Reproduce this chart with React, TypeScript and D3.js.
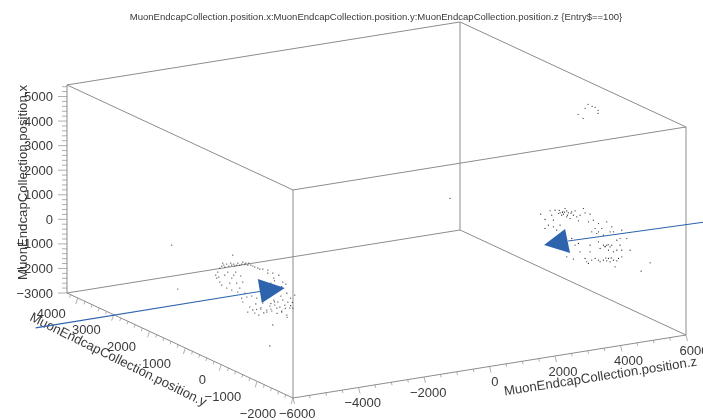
import React from "react";
import * as d3 from "d3";

const W = 703, H = 420;
const TITLE = "MuonEndcapCollection.position.x:MuonEndcapCollection.position.y:MuonEndcapCollection.position.z {Entry$==100}";
const X_TITLE = "MuonEndcapCollection.position.x";
const Y_TITLE = "MuonEndcapCollection.position.y";
const Z_TITLE = "MuonEndcapCollection.position.z";

const xTicks = [-3000, -2000, -1000, 0, 1000, 2000, 3000, 4000, 5000];
const yTicks = [-2000, -1000, 0, 1000, 2000, 3000, 4000];
const zTicks = [-6000, -4000, -2000, 0, 2000, 4000, 6000];
const xDomain = [-3000, 5470];
const yDomain = [-2000, 4300];
const zDomain = [-6000, 6000];
const zLeft = -5250;
const zRight = 5250;

// [x, y] hits on the -z endcap
const leftHits = [
  [280,725],[398,670],[480,614],[415,586],[577,530],[532,474],[691,419],[630,391],[707,335],[646,307],
  [724,251],[825,223],[780,167],[858,112],[959,84],[915,28],[976,0],[931,-56],[1033,-84],[988,-140],
  [988,-195],[984,-251],[1000,-335],[996,-391],[1053,-474],
  [-183,809],[-289,725],[89,586],[102,391],[-8,251],[-386,391],[81,781],[-154,167],[146,84],[-524,112],
  [-736,-112],[-801,-195],[-894,-363],[-610,-419],[-537,-586],[-484,-725],[-268,-865],[-171,-949],[4,-1088],
  [183,-1172],[-20,-1228],[-366,-1144],[171,-1032],[-4,-893],[-329,-474],[-667,84],[1081,-753],[1110,-921],
  [902,-1032],[878,-1116],[1106,-614],[602,-1367],[1057,363],[541,642],[-1033,-753],[-1943,-670],[984,-614],
  [-240,-307],[-386,-28],[-980,-56],[-618,-586],[-337,-1004],[-183,-809],[37,-1311],
  [-420,-700],[-300,-1000],[-120,-1100],[90,-1250],[-480,-870],[-560,-420],[-700,-300],[-450,-1150],[-200,-700],
  [260,-1300],[400,-1250],[700,-1000],[800,-800],[-60,-800],[309,2065],[-1366,1897],
  [-81,837],[-106,753],[-374,670],[268,502],[-138,446],[260,335],[419,279],[354,140],[-264,28],[-252,-167],
  [-500,-279],[-886,-251],[-715,-502],[-317,-670],[0,-781],[297,-977],[528,-1144],[447,-837],[634,-698],
  [894,-781],[-398,530],[-354,223],
];

// [x, y] hits on the +z endcap
const rightHits = [
  [-203,1365],[109,1105],[231,966],[217,826],[154,780],[488,687],[225,733],[375,594],[478,500],[374,454],
  [369,361],[175,547],[834,175],[690,128],[729,-11],[238,315],[-208,1012],[-337,1245],[-703,1245],[-285,826],
  [-479,1012],[387,35],[548,-104],[508,-244],[733,-476],[242,-151],[169,-244],[43,-58],[624,-616],[389,-569],
  [452,-662],[128,-383],[433,-1034],[307,-848],[-237,-244],[-216,-476],[-221,-569],[-121,-616],[-361,-662],
  [36,-848],[22,-1127],[-135,-895],[-802,-11],[-1167,128],[-1109,-58],[-983,-244],[-889,-383],[-726,-523],
  [-700,-662],[-537,-802],[-406,-895],[-1307,35],[-830,-569],[-279,-383],[-477,-290],[-939,-709],[-814,408],
  [-991,268],[-606,500],[-1446,640],[-1415,454],[-115,-1685],[-624,-1434],[678,-895],
  [300,850],[280,760],[420,640],[330,700],[260,620],[410,520],[-760,-450],[-650,-600],[-300,-430],[-170,-520],
  [158,872],[307,752],[180,640],[582,407],[500,268],[-505,1151],[-35,1058],[-551,919],[368,-337],[69,-197],
  [176,-755],[-315,-430],[-387,-523],[-230,-755],[-1271,82],[-978,-151],[-1019,-290],[-853,-476],[-664,-755],
  [-683,314],[-531,-11],
  [5166,45],[5159,-67],[5175,-151],[5110,-234],[4988,-234],[4947,128],[4569,324],[4500,184],
];
const strayHits = [[3100, -900, 0]];

// beam arrows: [x, y] at the endcap depth
const leftArrowLine = [[-5638,5859],[159,-474]];
const leftArrowHead = [[553,-335],[695,-1088],[-350,-446]];
const rightArrowLine = [[2541,-3164],[-780,603]];
const rightArrowHead = [[-1398,1272],[-350,686],[-1232,547]];

// oblique projection built from three linear scales
const xPy = d3.scaleLinear().domain([-3000, 5000]).range([0, -196.5]);
const yPx = d3.scaleLinear().domain([4300, -2000]).range([0, 226]);
const yPy = d3.scaleLinear().domain([4300, -2000]).range([0, 105]);
const zPx = d3.scaleLinear().domain([-6000, 6000]).range([0, 393]);
const zPy = d3.scaleLinear().domain([-6000, 6000]).range([0, -63]);
const OX = 67, OY = 293;
const proj = (x: number, y: number, z: number): [number, number] => [
  OX + yPx(y) + zPx(z),
  OY + xPy(x) + yPy(y) + zPy(z),
];

const seg = (a: number[], b: number[]) => {
  const p = proj(a[0], a[1], a[2]);
  const q = proj(b[0], b[1], b[2]);
  return { x1: p[0], y1: p[1], x2: q[0], y2: q[1] };
};

const minor = (lo: number, hi: number, step: number) => d3.range(lo, hi + 1, step);
const label = (v: number) => (v < 0 ? "\u2212" + -v : String(v));

const FONT = "'Liberation Sans', Arial, sans-serif";
const TXT = "#3a3a3a";
const BOX = "#8c8c8c";
const BLUE = "#2d64ad";

export default function App() {
  const [x0, x1] = xDomain;
  const [y0, y1] = yDomain;
  const [z0, z1] = zDomain;
  const edges: [number[], number[]][] = [
    [[x1,y1,z0],[x1,y1,z1]], [[x1,y1,z1],[x1,y0,z1]], [[x1,y0,z1],[x1,y0,z0]], [[x1,y0,z0],[x1,y1,z0]],
    [[x0,y1,z0],[x0,y0,z0]], [[x0,y0,z0],[x0,y0,z1]], [[x0,y0,z1],[x0,y1,z1]], [[x0,y1,z1],[x0,y1,z0]],
    [[x0,y1,z0],[x1,y1,z0]], [[x0,y0,z0],[x1,y0,z0]], [[x0,y1,z1],[x1,y1,z1]], [[x0,y0,z1],[x1,y0,z1]],
  ];
  const pts = [
    ...leftHits.map(d => proj(d[0], d[1], zLeft)),
    ...rightHits.map(d => proj(d[0], d[1], zRight)),
    ...strayHits.map(d => proj(d[0], d[1], d[2])),
  ];
  const line = d3.line();
  const arrow = (l: number[][], h: number[][], z: number) => ({
    l: line(l.map(d => proj(d[0], d[1], z)))!,
    h: line(h.map(d => proj(d[0], d[1], z)))! + "Z",
  });
  const a1 = arrow(leftArrowLine, leftArrowHead, zLeft);
  const a2 = arrow(rightArrowLine, rightArrowHead, zRight);

  return (
    <svg width={W} height={H} viewBox={`0 0 ${W} ${H}`}
      style={{ position: "absolute", left: 0, top: 0, background: "#fff" }}>
      <defs>
        <filter id="soft" x="-5%" y="-5%" width="110%" height="110%">
          <feGaussianBlur stdDeviation="0.55" />
        </filter>
      </defs>
      <g filter="url(#soft)" fontFamily={FONT} fill={TXT}>
        <text x={376} y={20} fontSize={9.55} textAnchor="middle">{TITLE}</text>

        {edges.map((e, i) => (
          <line key={i} {...seg(e[0], e[1])} stroke={BOX} strokeWidth={1} />
        ))}

        {minor(-3000, 5400, 200).map(v => {
          const [px, py] = proj(v, y1, z0);
          return <line key={v} x1={px} y1={py} x2={px - (v % 1000 === 0 ? 9 : 5)} y2={py} stroke={BOX} strokeWidth={0.7} />;
        })}
        {xTicks.map(v => {
          const [, py] = proj(v, y1, z0);
          return <text key={v} x={53} y={py} fontSize={13} textAnchor="end" dominantBaseline="central">{label(v)}</text>;
        })}

        {minor(-2000, 4200, 200).map(v => {
          const [px, py] = proj(x0, v, z0);
          const m = v % 1000 === 0;
          return <line key={v} x1={px} y1={py} x2={px - (m ? 2 : 1)} y2={py + (m ? 6 : 3)} stroke={BOX} strokeWidth={0.7} />;
        })}
        {yTicks.map(v => {
          const [px, py] = proj(x0, v, z0);
          return <text key={v} x={px - 12 - 0.8 * (4000 - v) / 1000} y={py + 15} fontSize={13} textAnchor="end" dominantBaseline="central">{label(v)}</text>;
        })}

        {minor(-6000, 6000, 500).map(v => {
          const [px, py] = proj(x0, y0, v);
          const m = v % 2000 === 0;
          return <line key={v} x1={px} y1={py} x2={px + (m ? 1.5 : 0.8)} y2={py + (m ? 6 : 3)} stroke={BOX} strokeWidth={0.7} />;
        })}
        {zTicks.map(v => {
          const [px, py] = proj(x0, y0, v);
          return <text key={v} x={px + (v === 0 ? 9 : 22.5)} y={py + 15} fontSize={13} textAnchor="end" dominantBaseline="central">{label(v)}</text>;
        })}

        <text transform="translate(22,280) rotate(-90)" fontSize={13.2} dominantBaseline="central">{X_TITLE}</text>
        <text transform="translate(31,316) rotate(26.3)" fontSize={13.2} dominantBaseline="central">{Y_TITLE}</text>
        <text transform="translate(504,391) rotate(-8.8)" fontSize={13.2} dominantBaseline="central">{Z_TITLE}</text>

        {pts.map((p, i) => (
          <circle key={i} cx={p[0]} cy={p[1]} r={0.6} fill="#222" />
        ))}

        <path d={a1.l} stroke={BLUE} strokeWidth={1.1} fill="none" />
        <path d={a1.h} fill={BLUE} />
        <path d={a2.l} stroke={BLUE} strokeWidth={1.1} fill="none" />
        <path d={a2.h} fill={BLUE} />
      </g>
    </svg>
  );
}
